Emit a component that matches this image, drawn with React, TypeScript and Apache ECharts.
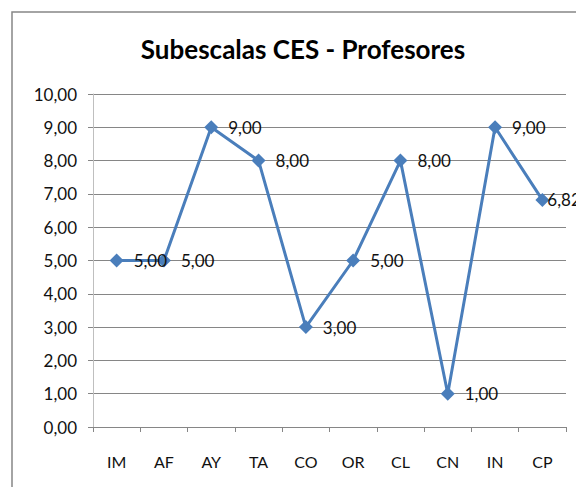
import React, { useEffect, useRef } from "react";
import * as echarts from "echarts";

const categories = ["IM", "AF", "AY", "TA", "CO", "OR", "CL", "CN", "IN", "CP"];
const values = [5.0, 5.0, 9.0, 8.0, 3.0, 5.0, 8.0, 1.0, 9.0, 6.82];
const yTicks = { min: 0, max: 10, interval: 1 };
const title = "Subescalas CES - Profesores";

const fmt = (v: number) => v.toFixed(2).replace(".", ",");

export default function App() {
  const ref = useRef<HTMLDivElement>(null);
  useEffect(() => {
    if (!ref.current) return;
    const chart = echarts.init(ref.current, null, { renderer: "svg" });
    const font = "Lato, 'Open Sans', sans-serif";
    const lastIdx = values.length - 1;
    chart.setOption({
      animation: false,
      backgroundColor: "#ffffff",
      title: {
        text: title,
        left: 298,
        top: 31,
        textAlign: "center",
        textStyle: { fontFamily: font, fontSize: 26, fontWeight: "bold", color: "#000" },
      },
      graphic: [
        {
          type: "rect",
          shape: { x: 12, y: 12, width: 700, height: 600 },
          style: { fill: "none", stroke: "#878787", lineWidth: 1.5 },
          silent: true,
        },
      ],
      grid: { left: 93, right: 10, top: 94, bottom: 60, containLabel: false },
      xAxis: {
        type: "category",
        data: categories,
        boundaryGap: true,
        axisLine: { show: true, lineStyle: { color: "#868686", width: 1 } },
        axisTick: { show: true, length: 5, alignWithLabel: false, lineStyle: { color: "#868686" } },
        axisLabel: { margin: 26, fontFamily: font, fontSize: 16, color: "#111" },
        splitLine: { show: false },
      },
      yAxis: {
        type: "value",
        min: yTicks.min,
        max: yTicks.max,
        interval: yTicks.interval,
        axisLine: { show: true, lineStyle: { color: "#BFBFBF", width: 1 } },
        axisTick: { show: true, length: 5, lineStyle: { color: "#868686" } },
        axisLabel: { margin: 16, fontFamily: font, fontSize: 17, color: "#111", formatter: (v: number) => fmt(v) },
        splitLine: { show: true, lineStyle: { color: "#868686", width: 1 } },
      },
      series: [
        {
          type: "line",
          data: values.map((v, i) =>
            i === lastIdx ? { value: v, label: { distance: -2 } } : v
          ),
          symbol: "diamond",
          symbolSize: 14,
          lineStyle: { color: "#4A7EBB", width: 3 },
          itemStyle: { color: "#4A7EBB" },
          label: {
            show: true,
            position: "right",
            distance: 10,
            fontFamily: font,
            fontSize: 17,
            color: "#111",
            formatter: (p: any) => fmt(p.value),
          },
        },
      ],
    });
    return () => chart.dispose();
  }, []);
  return <div ref={ref} style={{ position: "fixed", left: 0, top: 0, width: 576, height: 487 }} />;
}
